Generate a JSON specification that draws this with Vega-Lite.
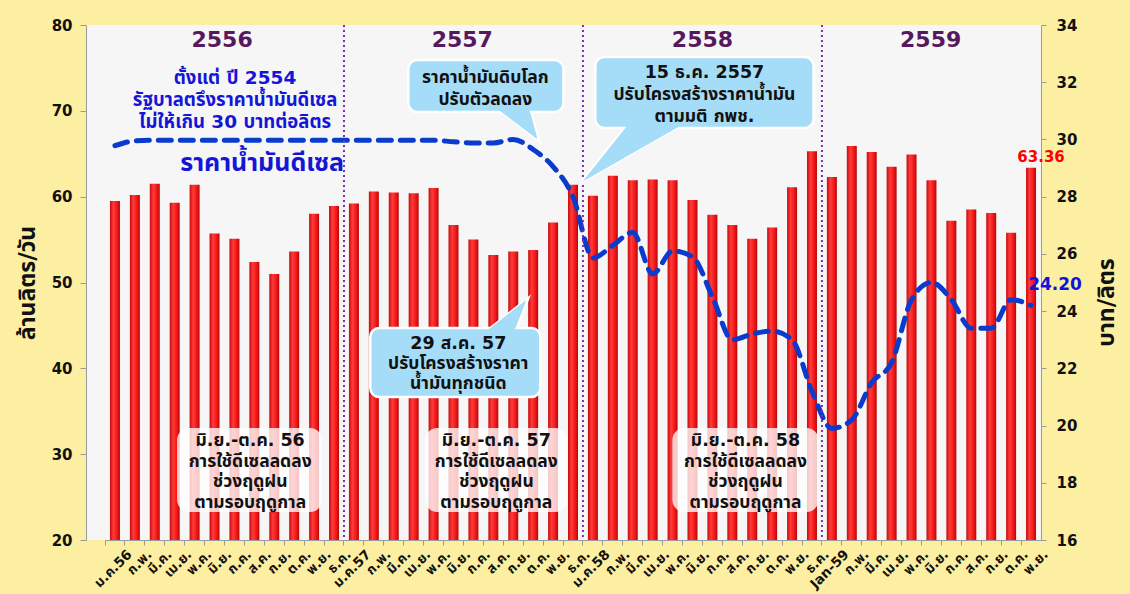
{
  "$schema": "https://vega.github.io/schema/vega-lite/v6.json",
  "width": 955,
  "height": 515,
  "autosize": {"type": "none"},
  "padding": {"left": 86, "top": 25, "right": 89, "bottom": 54},
  "background": "#fcefa2",
  "config": {
    "view": {"fill": "#f6f6f6", "stroke": null},
    "font": "Tahoma, DejaVu Sans, Noto Sans Thai, Noto Sans, sans-serif",
    "axis": {"labelFont": "Tahoma, DejaVu Sans, Noto Sans Thai, sans-serif", "titleFont": "Tahoma, DejaVu Sans, Noto Sans Thai, sans-serif"},
    "text": {"font": "Tahoma, DejaVu Sans, Noto Sans Thai, sans-serif"}
  },
  "datasets": {
    "monthly": [
      {"k": "ม.ค.56|1", "use": 59.5, "price": 29.78},
      {"k": "ก.พ.|2", "use": 60.2, "price": 29.95},
      {"k": "มี.ค.|3", "use": 61.5, "price": 29.97},
      {"k": "เม.ย.|4", "use": 59.3, "price": 29.97},
      {"k": "พ.ค.|5", "use": 61.4, "price": 29.97},
      {"k": "มิ.ย.|6", "use": 55.7, "price": 29.97},
      {"k": "ก.ค.|7", "use": 55.1, "price": 29.97},
      {"k": "ส.ค.|8", "use": 52.4, "price": 29.97},
      {"k": "ก.ย.|9", "use": 51.0, "price": 29.97},
      {"k": "ต.ค.|10", "use": 53.6, "price": 29.97},
      {"k": "พ.ย.|11", "use": 58.0, "price": 29.97},
      {"k": "ธ.ค.|12", "use": 58.9, "price": 29.97},
      {"k": "ม.ค.57|13", "use": 59.2, "price": 29.97},
      {"k": "ก.พ.|14", "use": 60.6, "price": 29.97},
      {"k": "มี.ค.|15", "use": 60.5, "price": 29.97},
      {"k": "เม.ย.|16", "use": 60.4, "price": 29.97},
      {"k": "พ.ค.|17", "use": 61.0, "price": 29.97},
      {"k": "มิ.ย.|18", "use": 56.7, "price": 29.92},
      {"k": "ก.ค.|19", "use": 55.0, "price": 29.88},
      {"k": "ส.ค.|20", "use": 53.2, "price": 29.88},
      {"k": "ก.ย.|21", "use": 53.6, "price": 30.0},
      {"k": "ต.ค.|22", "use": 53.8, "price": 29.65},
      {"k": "พ.ย.|23", "use": 57.0, "price": 29.05},
      {"k": "ธ.ค.|24", "use": 61.4, "price": 28.0},
      {"k": "ม.ค.58|25", "use": 60.1, "price": 25.86},
      {"k": "ก.พ.|26", "use": 62.45, "price": 26.3},
      {"k": "มี.ค.|27", "use": 61.9, "price": 26.75},
      {"k": "เม.ย.|28", "use": 62.0, "price": 25.3},
      {"k": "พ.ค.|29", "use": 61.9, "price": 26.1},
      {"k": "มิ.ย.|30", "use": 59.6, "price": 25.9},
      {"k": "ก.ค.|31", "use": 57.9, "price": 24.5},
      {"k": "ส.ค.|32", "use": 56.7, "price": 23.0},
      {"k": "ก.ย.|33", "use": 55.1, "price": 23.2},
      {"k": "ต.ค.|34", "use": 56.4, "price": 23.3},
      {"k": "พ.ย.|35", "use": 61.1, "price": 23.0},
      {"k": "ธ.ค.|36", "use": 65.3, "price": 21.2},
      {"k": "Jan-59|37", "use": 62.3, "price": 19.9},
      {"k": "ก.พ.|38", "use": 65.9, "price": 20.2},
      {"k": "มี.ค.|39", "use": 65.2, "price": 21.5},
      {"k": "เม.ย.|40", "use": 63.5, "price": 22.2},
      {"k": "พ.ค.|41", "use": 64.9, "price": 24.4},
      {"k": "มิ.ย.|42", "use": 61.9, "price": 25.0},
      {"k": "ก.ค.|43", "use": 57.2, "price": 24.4},
      {"k": "ส.ค.|44", "use": 58.5, "price": 23.4},
      {"k": "ก.ย.|45", "use": 58.1, "price": 23.4},
      {"k": "ต.ค.|46", "use": 55.8, "price": 24.4},
      {"k": "พ.ย.|47", "use": 63.36, "price": 24.2}
    ],
    "boxes": [
      {"kind": "season", "x1": 3.62, "x2": 10.9, "y1": 33.05, "y2": 23.26},
      {"kind": "season", "x1": 16.08, "x2": 23.22, "y1": 33.05, "y2": 23.26},
      {"kind": "season", "x1": 28.49, "x2": 35.83, "y1": 33.05, "y2": 23.26},
      {"kind": "callout", "x1": 15.23, "x2": 23.02, "y1": 75.92, "y2": 69.87},
      {"kind": "callout", "x1": 24.62, "x2": 35.58, "y1": 76.27, "y2": 68.0},
      {"kind": "callout", "x1": 13.32, "x2": 21.86, "y1": 44.7, "y2": 36.66}
    ],
    "pointers": [
      {"p": 1, "xi": 20.73, "yv": 68.41},
      {"p": 2, "xi": 26.46, "yv": 65.03},
      {"p": 3, "xi": 20.18, "yv": 46.21}
    ],
    "years": [
      {"xi": 12},
      {"xi": 24},
      {"xi": 36}
    ],
    "notes": [
      {"kind": "year", "xi": 5.88, "yv": 78.25, "t": "2556"},
      {"kind": "year", "xi": 17.94, "yv": 78.25, "t": "2557"},
      {"kind": "year", "xi": 30.0, "yv": 78.25, "t": "2558"},
      {"kind": "year", "xi": 41.46, "yv": 78.25, "t": "2559"},
      {"kind": "blue", "xi": 6.53, "yv": 73.83, "t": "ตั้งแต่ ปี 2554\nรัฐบาลตรึงราคาน้ำมันดีเซล\nไม่ให้เกิน 30 บาทต่อลิตร"},
      {"kind": "blueBig", "xi": 7.89, "yv": 63.92, "t": "ราคาน้ำมันดีเซล"},
      {"kind": "callout", "xi": 19.1, "yv": 73.83, "t": "ราคาน้ำมันดิบโลก\nปรับตัวลดลง"},
      {"kind": "callout", "xi": 30.1, "yv": 74.41, "t": "15 ธ.ค. 2557\nปรับโครงสร้างราคาน้ำมัน\nตามมติ กพช."},
      {"kind": "callout3", "xi": 17.74, "yv": 42.84, "t": "29 ส.ค. 57\nปรับโครงสร้างราคา\nน้ำมันทุกชนิด"},
      {"kind": "season", "xi": 7.29, "yv": 31.53, "t": "มิ.ย.-ต.ค. 56\nการใช้ดีเซลลดลง\nช่วงฤดูฝน\nตามรอบฤดูกาล"},
      {"kind": "season", "xi": 19.65, "yv": 31.53, "t": "มิ.ย.-ต.ค. 57\nการใช้ดีเซลลดลง\nช่วงฤดูฝน\nตามรอบฤดูกาล"},
      {"kind": "season", "xi": 32.16, "yv": 31.53, "t": "มิ.ย.-ต.ค. 58\nการใช้ดีเซลลดลง\nช่วงฤดูฝน\nตามรอบฤดูกาล"}
    ]
  },
  "resolve": {"scale": {"x": "independent", "y": "independent"}},
  "layer": [
    {
      "data": {"name": "monthly"},
      "resolve": {"scale": {"y": "independent"}},
      "encoding": {
        "x": {
          "field": "k", "type": "nominal", "sort": null,
          "scale": {"range": [19, 955], "paddingInner": 0, "paddingOuter": 0},
          "axis": {
            "title": null,
            "labelExpr": "split(datum.value, '|')[0]",
            "labelAngle": -45,
            "labelFontSize": 13.5,
            "labelFontWeight": "bold",
            "labelColor": "#111111",
            "labelPadding": 2,
            "bandPosition": 0,
            "labelOffset": 10,
            "tickColor": "#9a9a9a",
            "tickSize": 5,
            "domainColor": "#9a9a9a",
            "labelOverlap": false,
            "labelBound": false
          }
        }
      },
      "layer": [
        {
          "mark": {
            "type": "bar", "width": 10,
            "color": {"x1": 0, "y1": 0, "x2": 1, "y2": 0, "gradient": "linear",
              "stops": [{"offset": 0, "color": "#c80a0a"}, {"offset": 0.35, "color": "#ff3b3b"}, {"offset": 0.7, "color": "#f41818"}, {"offset": 1, "color": "#b50808"}]}
          },
          "encoding": {
            "y": {
              "field": "use", "type": "quantitative",
              "scale": {"domain": [20, 80], "zero": false, "nice": false},
              "axis": {
                "values": [20, 30, 40, 50, 60, 70, 80],
                "grid": false,
                "title": "ล้านลิตร/วัน",
                "titleFontSize": 23, "titleFontWeight": "bold", "titleColor": "#111111",
                "titlePadding": 12,
                "labelFontSize": 15, "labelFontWeight": "bold", "labelColor": "#111111",
                "labelPadding": 8,
                "tickColor": "#9a9a9a", "tickSize": 6, "domainColor": "#9a9a9a"
              }
            },
            "y2": {"datum": 20}
          }
        },
        {
          "transform": [{"filter": "datum.k == 'พ.ย.|47'"}],
          "mark": {"type": "text", "color": "#ff0000", "fontSize": 15, "fontWeight": "bold", "dx": 10, "dy": -11},
          "encoding": {
            "y": {"field": "use", "type": "quantitative", "scale": {"domain": [20, 80], "zero": false, "nice": false}, "axis": null},
            "text": {"field": "use", "type": "quantitative", "format": ".2f"}
          }
        },
        {
          "mark": {"type": "line", "interpolate": "monotone", "color": "#0b3bcc", "strokeWidth": 5, "strokeDash": [13, 9], "strokeCap": "round"},
          "encoding": {
            "y": {
              "field": "price", "type": "quantitative",
              "scale": {"domain": [16, 34], "zero": false, "nice": false},
              "axis": {
                "orient": "right",
                "values": [16, 18, 20, 22, 24, 26, 28, 30, 32, 34],
                "grid": false,
                "title": "บาท/ลิตร",
                "titleAngle": -90,
                "titleY": 277,
                "titleFontSize": 23, "titleFontWeight": "bold", "titleColor": "#111111",
                "titlePadding": 42,
                "labelFontSize": 15, "labelFontWeight": "bold", "labelColor": "#111111",
                "labelPadding": 10,
                "tickColor": "#9a9a9a", "tickSize": 5, "domainColor": "#9a9a9a"
              }
            }
          }
        },
        {
          "transform": [{"filter": "datum.k == 'พ.ย.|47'"}],
          "mark": {"type": "text", "color": "#1212e0", "fontSize": 17, "fontWeight": "bold", "dx": 24, "dy": -20},
          "encoding": {
            "y": {"field": "price", "type": "quantitative", "scale": {"domain": [16, 34], "zero": false, "nice": false}, "axis": null},
            "text": {"field": "price", "type": "quantitative", "format": ".2f"}
          }
        }
      ]
    },
    {
      "layer": [
        {
          "data": {"name": "years"},
          "mark": {"type": "rule", "color": "#7b2fb0", "strokeWidth": 2, "strokeDash": [2, 3]},
          "encoding": {
            "x": {"field": "xi", "type": "quantitative", "scale": {"domain": [0, 47], "range": [19, 955], "nice": false, "zero": false}, "axis": null}
          }
        },
        {
          "data": {"name": "boxes"},
          "transform": [{"filter": "datum.kind == 'season'"}],
          "mark": {"type": "rect", "fill": "#ffffff", "fillOpacity": 0.78, "cornerRadius": 12},
          "encoding": {
            "x": {"field": "x1", "type": "quantitative", "scale": {"domain": [0, 47], "range": [19, 955], "nice": false, "zero": false}, "axis": null},
            "x2": {"field": "x2"},
            "y": {"field": "y1", "type": "quantitative", "scale": {"domain": [20, 80], "nice": false, "zero": false}, "axis": null},
            "y2": {"field": "y2"}
          }
        },
        {
          "data": {"name": "pointers"},
          "transform": [{"filter": "datum.p == 1"}],
          "mark": {"type": "point", "shape": "M-1,-0.767L0.581,-0.767L1,0.767Z", "size": 1849, "filled": true, "fill": "#a5dcf8", "stroke": "#ffffff", "strokeWidth": 2.5, "opacity": 1},
          "encoding": {
            "x": {"field": "xi", "type": "quantitative", "axis": null},
            "y": {"field": "yv", "type": "quantitative", "axis": null}
          }
        },
        {
          "data": {"name": "pointers"},
          "transform": [{"filter": "datum.p == 2"}],
          "mark": {"type": "point", "shape": "M-0.087,-0.573L1,-0.573L-1,0.573Z", "size": 10609, "filled": true, "fill": "#a5dcf8", "stroke": "#ffffff", "strokeWidth": 2.5, "opacity": 1},
          "encoding": {
            "x": {"field": "xi", "type": "quantitative", "axis": null},
            "y": {"field": "yv", "type": "quantitative", "axis": null}
          }
        },
        {
          "data": {"name": "pointers"},
          "transform": [{"filter": "datum.p == 3"}],
          "mark": {"type": "point", "shape": "M-1,0.791L0.395,0.791L1,-0.791Z", "size": 1849, "filled": true, "fill": "#a5dcf8", "stroke": "#ffffff", "strokeWidth": 2.5, "opacity": 1},
          "encoding": {
            "x": {"field": "xi", "type": "quantitative", "axis": null},
            "y": {"field": "yv", "type": "quantitative", "axis": null}
          }
        },
        {
          "data": {"name": "boxes"},
          "transform": [{"filter": "datum.kind == 'callout'"}],
          "mark": {"type": "rect", "fill": "#a5dcf8", "stroke": "#ffffff", "strokeWidth": 2.5, "cornerRadius": 9},
          "encoding": {
            "x": {"field": "x1", "type": "quantitative", "axis": null},
            "x2": {"field": "x2"},
            "y": {"field": "y1", "type": "quantitative", "axis": null},
            "y2": {"field": "y2"}
          }
        },
        {
          "data": {"name": "pointers"},
          "transform": [{"filter": "datum.p == 1"}],
          "mark": {"type": "point", "shape": "M-1,-0.767L0.581,-0.767L1,0.767Z", "size": 1500, "filled": true, "fill": "#a5dcf8", "strokeWidth": 0, "opacity": 1},
          "encoding": {
            "x": {"field": "xi", "type": "quantitative", "axis": null},
            "y": {"field": "yv", "type": "quantitative", "axis": null}
          }
        },
        {
          "data": {"name": "pointers"},
          "transform": [{"filter": "datum.p == 2"}],
          "mark": {"type": "point", "shape": "M-0.087,-0.573L1,-0.573L-1,0.573Z", "size": 9800, "filled": true, "fill": "#a5dcf8", "strokeWidth": 0, "opacity": 1},
          "encoding": {
            "x": {"field": "xi", "type": "quantitative", "axis": null},
            "y": {"field": "yv", "type": "quantitative", "axis": null}
          }
        },
        {
          "data": {"name": "pointers"},
          "transform": [{"filter": "datum.p == 3"}],
          "mark": {"type": "point", "shape": "M-1,0.791L0.395,0.791L1,-0.791Z", "size": 1500, "filled": true, "fill": "#a5dcf8", "strokeWidth": 0, "opacity": 1},
          "encoding": {
            "x": {"field": "xi", "type": "quantitative", "axis": null},
            "y": {"field": "yv", "type": "quantitative", "axis": null}
          }
        },
        {
          "data": {"name": "notes"},
          "transform": [{"filter": "datum.kind == 'year'"}],
          "mark": {"type": "text", "fontSize": 22, "fontWeight": "bold", "color": "#58185f", "baseline": "middle"},
          "encoding": {
            "x": {"field": "xi", "type": "quantitative", "axis": null},
            "y": {"field": "yv", "type": "quantitative", "axis": null},
            "text": {"field": "t"}
          }
        },
        {
          "data": {"name": "notes"},
          "transform": [{"filter": "datum.kind == 'blue'"}],
          "mark": {"type": "text", "fontSize": 18.5, "fontWeight": "bold", "color": "#1515d6", "baseline": "middle", "lineBreak": "\n", "lineHeight": 22},
          "encoding": {
            "x": {"field": "xi", "type": "quantitative", "axis": null},
            "y": {"field": "yv", "type": "quantitative", "axis": null},
            "text": {"field": "t"}
          }
        },
        {
          "data": {"name": "notes"},
          "transform": [{"filter": "datum.kind == 'blueBig'"}],
          "mark": {"type": "text", "fontSize": 25, "fontWeight": "bold", "color": "#1515d6", "baseline": "middle"},
          "encoding": {
            "x": {"field": "xi", "type": "quantitative", "axis": null},
            "y": {"field": "yv", "type": "quantitative", "axis": null},
            "text": {"field": "t"}
          }
        },
        {
          "data": {"name": "notes"},
          "transform": [{"filter": "datum.kind == 'callout'"}],
          "mark": {"type": "text", "fontSize": 17.5, "fontWeight": "bold", "color": "#111111", "baseline": "middle", "lineBreak": "\n", "lineHeight": 22},
          "encoding": {
            "x": {"field": "xi", "type": "quantitative", "axis": null},
            "y": {"field": "yv", "type": "quantitative", "axis": null},
            "text": {"field": "t"}
          }
        },
        {
          "data": {"name": "notes"},
          "transform": [{"filter": "datum.kind == 'callout3'"}],
          "mark": {"type": "text", "fontSize": 17.5, "fontWeight": "bold", "color": "#111111", "baseline": "middle", "lineBreak": "\n", "lineHeight": 20},
          "encoding": {
            "x": {"field": "xi", "type": "quantitative", "axis": null},
            "y": {"field": "yv", "type": "quantitative", "axis": null},
            "text": {"field": "t"}
          }
        },
        {
          "data": {"name": "notes"},
          "transform": [{"filter": "datum.kind == 'season'"}],
          "mark": {"type": "text", "fontSize": 17.5, "fontWeight": "bold", "color": "#111111", "baseline": "middle", "lineBreak": "\n", "lineHeight": 20.5},
          "encoding": {
            "x": {"field": "xi", "type": "quantitative", "axis": null},
            "y": {"field": "yv", "type": "quantitative", "axis": null},
            "text": {"field": "t"}
          }
        }
      ]
    }
  ]
}
